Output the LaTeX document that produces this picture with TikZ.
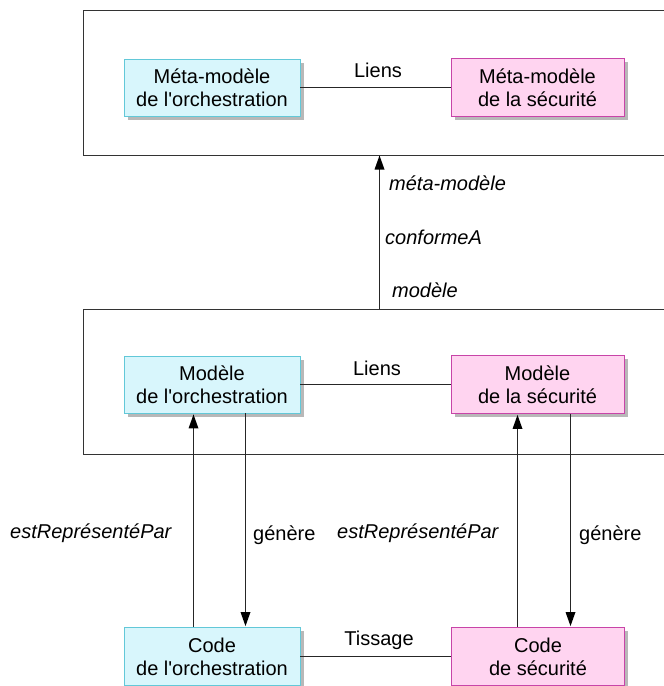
\documentclass[tikz,border=0pt]{standalone}
\usepackage{fontspec}
\setmainfont{Liberation Sans}
\usetikzlibrary{shadows}
\definecolor{cyfill}{HTML}{D8F6FC}
\definecolor{cydraw}{HTML}{62C8D8}
\definecolor{pkfill}{HTML}{FFD4F0}
\definecolor{pkdraw}{HTML}{C844A8}
\newcommand{\apos}{\textquotesingle}
\begin{document}
\begin{tikzpicture}[x=1pt,y=-1pt,
  every node/.style={font=\fontsize{20}{23}\selectfont, inner sep=0pt},
  boxbase/.style={rectangle, align=center, line width=0.9pt,
    drop shadow={shadow xshift=3.5pt, shadow yshift=-3.5pt, fill=black!28, opacity=1}},
  cybox/.style={boxbase, draw=cydraw, fill=cyfill, minimum width=176pt, minimum height=57pt},
  pkbox/.style={boxbase, draw=pkdraw, fill=pkfill, minimum width=173pt, minimum height=58pt},
  frame/.style={draw=black!80, line width=0.9pt},
  conn/.style={draw=black!85, line width=1pt},
  headfill/.style={fill=black},
  lbl/.style={anchor=west},
  ilbl/.style={anchor=west, font=\fontsize{20}{23}\selectfont\itshape}]
\useasboundingbox (0,0) rectangle (664,686);
\fill[white] (0,0) rectangle (664,686);
\begin{scope}
\clip (0,0) rectangle (664,686);
% frames
\draw[frame] (670,10) -- (83,10) -- (83,155) -- (670,155);
\draw[frame] (670,309) -- (83,309) -- (83,454) -- (670,454);
% boxes
\node[cybox] (mmo) at (212,87.5) {Méta-modèle\\de l\apos orchestration};
\node[pkbox] (mms) at (537.5,87.5) {Méta-modèle\\de la sécurité};
\node[cybox] (mo) at (212,384.5) {Modèle\\de l\apos orchestration};
\node[pkbox] (ms) at (537.5,384.5) {Modèle\\de la sécurité};
\node[cybox, minimum height=58pt] (co) at (212,656.5) {Code\\de l\apos orchestration};
\node[pkbox] (cs) at (538,656.5) {Code\\de sécurité};
\end{scope}
% links
\draw[conn] (mmo.east) -- (mms.west);
\node (liens1) at (378,70) {Liens};
\draw[conn] (mo.east) -- (ms.west);
\node (liens2) at (377,368) {Liens};
\draw[conn] (co.east) -- (cs.west);
\node (tiss) at (379,640) {Tissage};
% conformeA
\coordinate (cfbot) at (379.5,309);
\coordinate (cftop) at (379.5,155.5);
\draw[conn] (cfbot) -- ([yshift=-8pt]cftop);
\fill[headfill] (cftop) -- ++(-5,14) -- ++(10,0) -- cycle;
\node[ilbl] (mm) at (389,183) {méta-modèle};
\node[ilbl] (cf) at (385,237) {conformeA};
\node[ilbl] (mdl) at (392,290) {modèle};
% vertical arrows
\coordinate (u1b) at ([xshift=-18.5pt]co.north);
\coordinate (u1t) at ([xshift=-18.5pt,yshift=-1pt]mo.south);
\coordinate (d1t) at ([xshift=33.5pt]mo.south);
\coordinate (d1b) at ([xshift=33.5pt,yshift=1pt]co.north);
\coordinate (u2b) at ([xshift=-20.5pt]cs.north);
\coordinate (u2t) at ([xshift=-20pt,yshift=-1pt]ms.south);
\coordinate (d2t) at ([xshift=33pt]ms.south);
\coordinate (d2b) at ([xshift=32.5pt,yshift=1pt]cs.north);
\draw[conn] (u1b) -- ([yshift=-8pt]u1t);
\fill[headfill] (u1t) -- ++(-5,14) -- ++(10,0) -- cycle;
\draw[conn] (d1t) -- ([yshift=8pt]d1b);
\fill[headfill] (d1b) -- ++(-5,-14) -- ++(10,0) -- cycle;
\draw[conn] (u2b) -- ([yshift=-8pt]u2t);
\fill[headfill] (u2t) -- ++(-5,14) -- ++(10,0) -- cycle;
\draw[conn] (d2t) -- ([yshift=8pt]d2b);
\fill[headfill] (d2b) -- ++(-5,-14) -- ++(10,0) -- cycle;
\node[ilbl] (erp1) at (10,533) {estReprésentéPar};
\node[lbl] (gen1) at (253,535) {génère};
\node[ilbl] (erp2) at (337,533) {estReprésentéPar};
\node[lbl] (gen2) at (579,535) {génère};
\end{tikzpicture}
\end{document}
